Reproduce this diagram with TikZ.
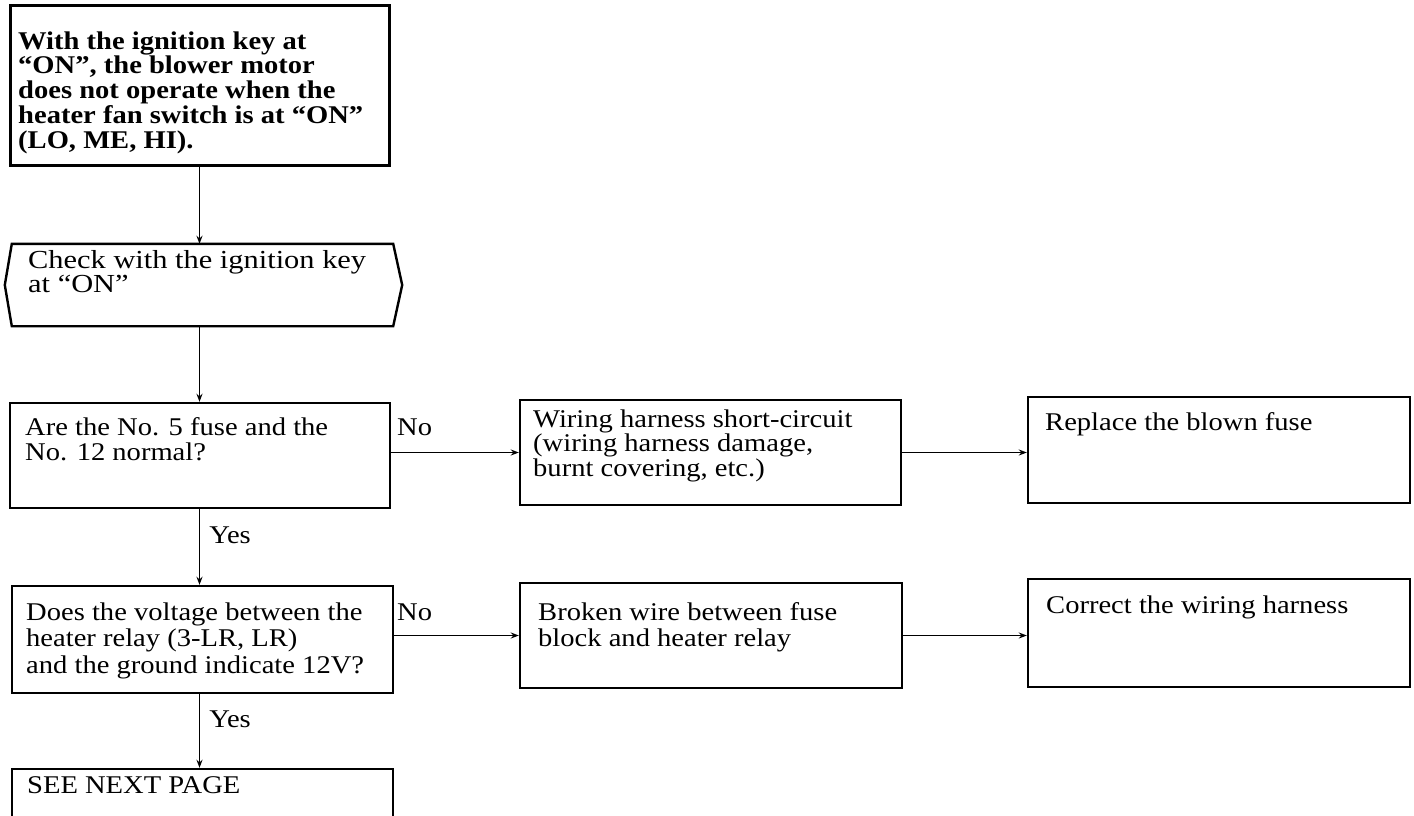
\documentclass[tikz,border=0pt]{standalone}
\usepackage{fontspec}
\setmainfont{Liberation Serif}[FakeStretch=1.12]
\newfontfamily\widerfont{Liberation Serif}[FakeStretch=1.17]
\usetikzlibrary{arrows.meta,calc}
\begin{document}
\begin{tikzpicture}[x=1pt,y=-1pt,
  box/.style={draw, line width=2.4pt, inner sep=0pt},
  txt/.style={anchor=base west, inner sep=0pt, align=left},
  lbl/.style={anchor=base west, inner sep=0pt, font=\fontsize{25.5}{25}\selectfont},
  flow/.style={line width=1.6pt, -{Stealth[length=8pt,width=6pt]}}]
\useasboundingbox (0,0) rectangle (1414,816);
\clip (0,0) rectangle (1414,816);

% frames
\node[box, line width=3pt, minimum width=379, minimum height=159] (start) at (199.5,85.5) {};
\node[minimum width=381, minimum height=82, inner sep=0pt] (check) at (202.5,285) {};
\draw[line width=2.4pt, line join=miter]
  (check.north west) -- (check.north east) -- ($(check.east)+(9,0)$)
  -- (check.south east) -- (check.south west) -- ($(check.west)+(-7,0)$) -- cycle;
\node[box, minimum width=380, minimum height=105] (fuses) at (200,455.5) {};
\node[box, minimum width=381, minimum height=105] (short) at (710.5,452.5) {};
\node[box, minimum width=382, minimum height=106] (replace) at (1219,450) {};
\node[box, minimum width=381, minimum height=107] (relay) at (202.5,639.5) {};
\node[box, minimum width=382, minimum height=105] (broken) at (711,635.5) {};
\node[box, minimum width=382, minimum height=108] (correct) at (1219,633) {};
\node[box, minimum width=381, minimum height=60] (next) at (202.5,799) {};

% texts (each placed at the baseline of its last line)
\node[txt, font=\bfseries\fontsize{25.5}{24.75}\selectfont] (startT) at (18,148)
  {With the ignition key at\\“ON”, the blower motor\\does not operate when the\\heater fan switch is at “ON”\\(LO, ME, HI).};
\node[txt, font=\widerfont\fontsize{26}{22}\selectfont] (checkT) at (28,292)
  {Check with the ignition key\\at “ON”};
\node[txt, font=\fontsize{25.5}{25}\selectfont] (fusesT) at (25,460)
  {Are the No. 5 fuse and the\\No. 12 normal?};
\node[txt, font=\fontsize{25.5}{21.5}\selectfont] (shortT) at (533,476)
  {Wiring harness short-circuit\\(wiring harness damage,\\burnt covering, etc.)};
\node[txt, font=\fontsize{25.5}{25}\selectfont] (replaceT) at (1045,430)
  {Replace the blown fuse};
\node[txt, font=\fontsize{25.5}{26.5}\selectfont] (relayT) at (26,673)
  {Does the voltage between the\\heater relay (3-LR, LR)\\and the ground indicate 12V?};
\node[txt, font=\fontsize{25.5}{26}\selectfont] (brokenT) at (538,646)
  {Broken wire between fuse\\block and heater relay};
\node[txt, font=\fontsize{25.5}{25}\selectfont] (correctT) at (1046,613)
  {Correct the wiring harness};
\node[txt, font=\fontsize{25.5}{25}\selectfont] (nextT) at (27,793)
  {SEE NEXT PAGE};

% connectors
\draw[flow] (start.south) -- (start.south |- check.north);
\draw[flow] (check.south -| start.south) -- (start.south |- fuses.north);
\draw[flow] (fuses.south -| start.south) -- (start.south |- relay.north)
  node[lbl, pos=0.45, xshift=9pt] (yes1) {Yes};
\draw[flow] (relay.south -| start.south) -- (start.south |- next.north)
  node[lbl, pos=0.45, xshift=9pt] (yes2) {Yes};
\draw[flow] (short.west -| fuses.east) -- (short.west);
\draw[flow] (short.east) -- (short.east -| replace.west);
\draw[flow] (broken.west -| relay.east) -- (broken.west);
\draw[flow] (broken.east) -- (broken.east -| correct.west);
\node[lbl] (no1) at (397,435) {No};
\node[lbl] (no2) at (397,620) {No};
\end{tikzpicture}
\end{document}
